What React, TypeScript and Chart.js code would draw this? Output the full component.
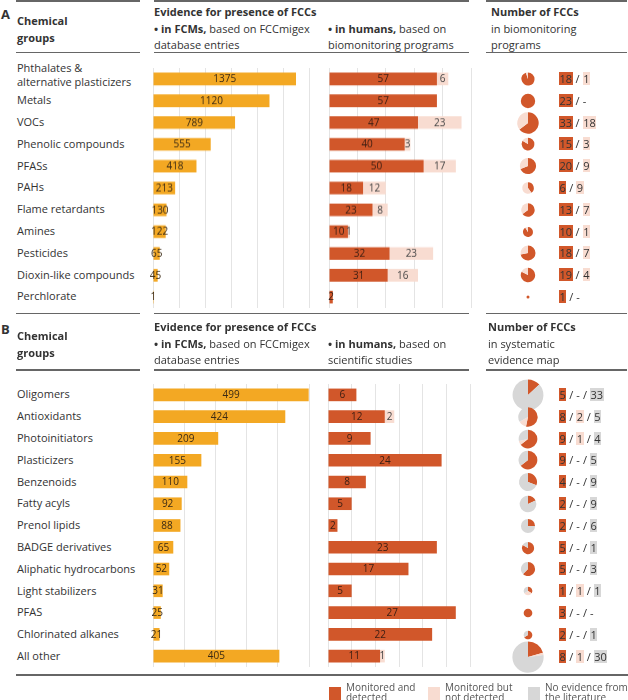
import React, { useEffect, useRef } from 'react';
import { Chart, registerables } from 'chart.js';
Chart.register(...registerables);

// ---------- DATA ----------
const groupsA = [
  'Phthalates &\nalternative plasticizers', 'Metals', 'VOCs', 'Phenolic compounds', 'PFASs', 'PAHs',
  'Flame retardants', 'Amines', 'Pesticides', 'Dioxin-like compounds', 'Perchlorate',
];
const fcmEntriesA = [1375, 1120, 789, 555, 418, 213, 130, 122, 65, 45, 1];
const humansDetectedA = [57, 57, 47, 40, 50, 18, 23, 10, 32, 31, 2];
const humansNotDetectedA = [6, 0, 23, 3, 17, 12, 8, 1, 23, 16, 0];
const fccDetectedA = [18, 23, 33, 15, 20, 6, 13, 10, 18, 19, 1];
const fccNotDetectedA = [1, 0, 18, 3, 9, 9, 7, 1, 7, 4, 0];

const groupsB = [
  'Oligomers', 'Antioxidants', 'Photoinitiators', 'Plasticizers', 'Benzenoids', 'Fatty acyls',
  'Prenol lipids', 'BADGE derivatives', 'Aliphatic hydrocarbons', 'Light stabilizers', 'PFAS',
  'Chlorinated alkanes', 'All other',
];
const fcmEntriesB = [499, 424, 209, 155, 110, 92, 88, 65, 52, 31, 25, 21, 405];
const humansDetectedB = [6, 12, 9, 24, 8, 5, 2, 23, 17, 5, 27, 22, 11];
const humansNotDetectedB = [0, 2, 0, 0, 0, 0, 0, 0, 0, 0, 0, 0, 1];
const fccDetectedB = [5, 8, 9, 9, 4, 2, 2, 5, 5, 1, 3, 2, 8];
const fccNotDetectedB = [0, 2, 1, 0, 0, 0, 0, 0, 0, 1, 0, 0, 1];
const fccNoEvidenceB = [33, 5, 4, 5, 9, 9, 6, 1, 3, 1, 0, 1, 30];

const axisFcmA = { max: 1500, step: 250 };
const axisHumansA = { max: 75, step: 15 };
const axisFcmB = { max: 500, step: 100 };
const axisHumansB = { max: 30, step: 5 };

const legendItems = [
  ['Monitored and', 'detected'],
  ['Monitored but', 'not detected'],
  ['No evidence from', 'the literature'],
];

// ---------- STYLE ----------
const YELLOW = '#F3A823';
const ORANGE = '#D1572A';
const PINK = '#F8DCD1';
const GRAY = '#D7D7D7';
const FONT = '"Open Sans", "Noto Sans", sans-serif';
const TEXT = '#333333';
const ROW = 21.8;

const labelPlugin = {
  id: 'barLabels',
  afterDatasetsDraw(chart: any) {
    const ctx = chart.ctx;
    chart.data.datasets.forEach((ds: any, di: number) => {
      const meta = chart.getDatasetMeta(di);
      meta.data.forEach((bar: any, i: number) => {
        const v = ds.data[i];
        if (!v) return;
        const p = bar.getProps(['x', 'base', 'y'], true);
        ctx.save();
        ctx.font = '10px ' + FONT;
        ctx.fillStyle = ds.textColor;
        ctx.textAlign = 'center';
        ctx.textBaseline = 'middle';
        ctx.fillText(String(v), (p.x + p.base) / 2, p.y + 0.5);
        ctx.restore();
      });
    });
  },
};

function BarChart(props: {
  labels: string[];
  series: { data: number[]; color: string; textColor: string }[];
  max: number;
  step: number;
  x0: number;
  x1: number;
  top: number;
}) {
  const ref = useRef<HTMLCanvasElement>(null);
  const pad = 3;
  const width = props.x1 - props.x0 + pad * 2;
  const height = props.labels.length * ROW;
  useEffect(() => {
    const chart = new Chart(ref.current as HTMLCanvasElement, {
      type: 'bar',
      data: {
        labels: props.labels,
        datasets: props.series.map((s) => ({
          data: s.data,
          backgroundColor: s.color,
          textColor: s.textColor,
          borderWidth: 0,
          barPercentage: 0.58,
          categoryPercentage: 1,
        })) as any,
      },
      options: {
        indexAxis: 'y',
        responsive: false,
        animation: false,
        layout: { padding: { left: pad, right: pad, top: 0, bottom: 0 } },
        plugins: { legend: { display: false }, tooltip: { enabled: false } },
        scales: {
          x: {
            stacked: true,
            min: 0,
            max: props.max,
            ticks: { display: false, stepSize: props.step },
            grid: { color: '#e4e4e4', lineWidth: 1, drawTicks: false },
            border: { display: false },
          },
          y: { stacked: true, display: false },
        },
      },
      plugins: [labelPlugin],
    });
    return () => chart.destroy();
  }, []);
  return (
    <canvas
      ref={ref}
      width={width}
      height={height}
      style={{ position: 'absolute', left: props.x0 - pad, top: props.top, width, height }}
    />
  );
}

function PieChart(props: { values: number[]; colors: string[]; radius: number; cx: number; cy: number }) {
  const ref = useRef<HTMLCanvasElement>(null);
  const size = 40;
  useEffect(() => {
    const chart = new Chart(ref.current as HTMLCanvasElement, {
      type: 'pie',
      data: {
        labels: props.values.map((_, i) => String(i)),
        datasets: [
          {
            data: props.values,
            backgroundColor: props.colors,
            borderWidth: 0,
            radius: props.radius,
          } as any,
        ],
      },
      options: {
        responsive: false,
        animation: false,
        layout: { padding: 0 },
        plugins: { legend: { display: false }, tooltip: { enabled: false } },
      } as any,
    });
    return () => chart.destroy();
  }, []);
  return (
    <canvas
      ref={ref}
      width={size}
      height={size}
      style={{ position: 'absolute', left: props.cx - size / 2, top: props.cy - size / 2, width: size, height: size }}
    />
  );
}

function HLine({ x1, x2, y }: { x1: number; x2: number; y: number }) {
  return <div style={{ position: 'absolute', left: x1, top: y - 0.75, width: x2 - x1, height: 1.5, background: '#666' }} />;
}

function Txt(props: { x: number; y: number; children: any; size?: number; bold?: boolean; color?: string; lh?: number }) {
  const lh = props.lh || 14;
  return (
    <div
      style={{
        position: 'absolute',
        left: props.x,
        top: props.y - lh / 2,
        lineHeight: lh + 'px',
        fontSize: (props.size || 11) + 'px',
        fontWeight: props.bold ? 700 : 400,
        color: props.color || TEXT,
        whiteSpace: 'nowrap',
        fontFamily: FONT,
      }}
    >
      {props.children}
    </div>
  );
}

function CountLabel({ nums, colors, y }: { nums: number[]; colors: string[]; y: number }) {
  const parts: any[] = [];
  nums.forEach((n, i) => {
    if (i > 0) parts.push(<span key={'s' + i} style={{ padding: '0 3px' }}>/</span>);
    if (n > 0) {
      parts.push(
        <span key={'n' + i} style={{ background: colors[i], padding: '1px 0.5px', display: 'inline-block', lineHeight: '11px' }}>
          {n}
        </span>
      );
    } else {
      parts.push(<span key={'n' + i}>-</span>);
    }
  });
  return <Txt x={559} y={y} size={11}>{parts}</Txt>;
}

function Header(props: { y0: number; letter: string; humansLine2: string; rightLine1: string; rightLine2: string; rightX: number }) {
  const y = props.y0;
  return (
    <>
      <Txt x={1} y={y + 14} size={13} bold>{props.letter}</Txt>
      <Txt x={17} y={y + 21} bold>Chemical</Txt>
      <Txt x={17} y={y + 37.5} bold>groups</Txt>
      <Txt x={154} y={y + 12} bold>Evidence for presence of FCCs</Txt>
      <Txt x={154} y={y + 28.5}><b>• in FCMs,</b> based on FCCmigex</Txt>
      <Txt x={154} y={y + 45}>database entries</Txt>
      <Txt x={328} y={y + 28.5}><b>• in humans,</b> based on</Txt>
      <Txt x={328} y={y + 45}>{props.humansLine2}</Txt>
      <Txt x={props.rightX} y={y + 12} bold>Number of FCCs</Txt>
      <Txt x={props.rightX} y={y + 28.5}>{props.rightLine1}</Txt>
      <Txt x={props.rightX} y={y + 45}>{props.rightLine2}</Txt>
    </>
  );
}

function Lines({ y }: { y: number }) {
  return (
    <>
      <HLine x1={16} x2={140} y={y} />
      <HLine x1={154} x2={469} y={y} />
      <HLine x1={486} x2={627} y={y} />
    </>
  );
}

export default function App() {
  const topA = 68;
  const topB = 384;
  const rowY = (top: number, i: number) => top + ROW / 2 + i * ROW;
  return (
    <div style={{ position: 'absolute', left: 0, top: 0, width: 628, height: 700, overflow: 'hidden', background: '#fff', fontFamily: FONT }}>
      {/* Panel A */}
      <Lines y={0.75} />
      <Lines y={52.5} />
      <Header y0={0} letter="A" humansLine2="biomonitoring programs" rightLine1="in biomonitoring" rightLine2="programs" rightX={491} />
      {groupsA.map((g, i) => {
        const lines = g.split('\n');
        const cy = rowY(topA, i) - (lines.length > 1 ? 4 : 0.5);
        return lines.map((l, j) => (
          <Txt key={g + j} x={17} y={cy + (j - (lines.length - 1) / 2) * 13.4}>{l}</Txt>
        ));
      })}
      <BarChart
        labels={groupsA}
        series={[{ data: fcmEntriesA, color: YELLOW, textColor: '#3b2a14' }]}
        max={axisFcmA.max}
        step={axisFcmA.step}
        x0={153}
        x1={309}
        top={topA}
      />
      <BarChart
        labels={groupsA}
        series={[
          { data: humansDetectedA, color: ORANGE, textColor: '#3a1d12' },
          { data: humansNotDetectedA, color: PINK, textColor: '#444' },
        ]}
        max={axisHumansA.max}
        step={axisHumansA.step}
        x0={329}
        x1={471}
        top={topA}
      />
      {groupsA.map((g, i) => (
        <PieChart
          key={'pa' + i}
          values={[fccDetectedA[i], fccNotDetectedA[i]]}
          colors={[ORANGE, PINK]}
          radius={1.5 * Math.sqrt(fccDetectedA[i] + fccNotDetectedA[i])}
          cx={528}
          cy={rowY(topA, i)}
        />
      ))}
      {groupsA.map((g, i) => (
        <CountLabel key={'ca' + i} nums={[fccDetectedA[i], fccNotDetectedA[i]]} colors={[ORANGE, PINK]} y={rowY(topA, i)} />
      ))}

      {/* Panel B */}
      <Lines y={313.5} />
      <Lines y={370} />
      <Header y0={315} letter="B" humansLine2="scientific studies" rightLine1="in systematic" rightLine2="evidence map" rightX={488} />
      {groupsB.map((g, i) => (
        <Txt key={g} x={17} y={rowY(topB, i) - 0.5}>{g}</Txt>
      ))}
      <BarChart
        labels={groupsB}
        series={[{ data: fcmEntriesB, color: YELLOW, textColor: '#3b2a14' }]}
        max={axisFcmB.max}
        step={axisFcmB.step}
        x0={153}
        x1={309}
        top={topB}
      />
      <BarChart
        labels={groupsB}
        series={[
          { data: humansDetectedB, color: ORANGE, textColor: '#3a1d12' },
          { data: humansNotDetectedB, color: PINK, textColor: '#444' },
        ]}
        max={axisHumansB.max}
        step={axisHumansB.step}
        x0={328}
        x1={470}
        top={topB}
      />
      {groupsB.map((g, i) => (
        <PieChart
          key={'pb' + i}
          values={[fccDetectedB[i], fccNotDetectedB[i], fccNoEvidenceB[i]]}
          colors={[ORANGE, PINK, GRAY]}
          radius={2.5 * Math.sqrt(fccDetectedB[i] + fccNotDetectedB[i] + fccNoEvidenceB[i])}
          cx={528}
          cy={rowY(topB, i)}
        />
      ))}
      {groupsB.map((g, i) => (
        <CountLabel
          key={'cb' + i}
          nums={[fccDetectedB[i], fccNotDetectedB[i], fccNoEvidenceB[i]]}
          colors={[ORANGE, PINK, GRAY]}
          y={rowY(topB, i)}
        />
      ))}

      <HLine x1={16} x2={628} y={675} />

      {/* Legend */}
      {legendItems.map((item, i) => {
        const sx = [329, 428, 528][i];
        const c = [ORANGE, PINK, GRAY][i];
        return (
          <React.Fragment key={'lg' + i}>
            <div style={{ position: 'absolute', left: sx, top: 687, width: 12, height: 13, background: c }} />
            <Txt x={sx + 17} y={686.5} size={10} lh={10} color="#555">{item[0]}</Txt>
            <Txt x={sx + 17} y={696.5} size={10} lh={10} color="#555">{item[1]}</Txt>
          </React.Fragment>
        );
      })}
    </div>
  );
}
